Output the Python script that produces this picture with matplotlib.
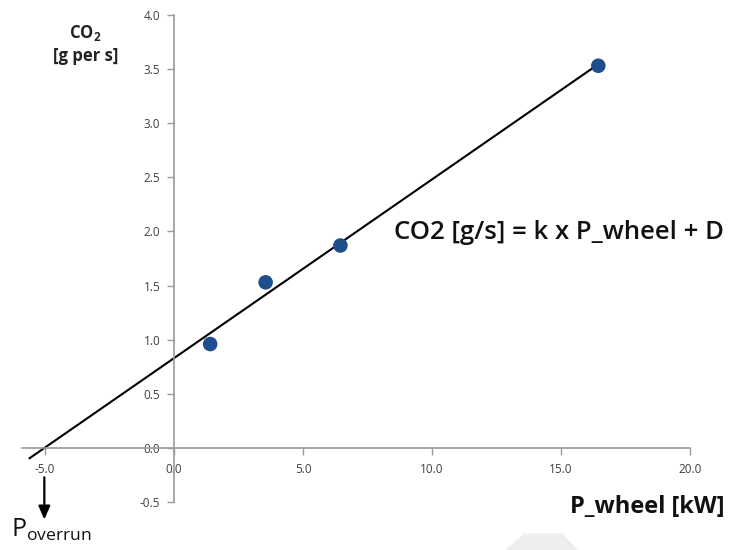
import numpy as np
import matplotlib
matplotlib.use('Agg')
import matplotlib.pyplot as plt
from matplotlib.patches import Polygon

# measured points: wheel power [kW] vs CO2 [g/s]
p_wheel = [1.4, 3.55, 6.45, 16.45]
co2 = [0.96, 1.53, 1.87, 3.53]

# linear trend CO2 = k * P_wheel + D
k = 0.165
D = 0.83
line_x = [-5.6, 16.5]

x_ticks = [-5.0, 0.0, 5.0, 10.0, 15.0, 20.0]
y_ticks = [-0.5, 0.0, 0.5, 1.0, 1.5, 2.0, 2.5, 3.0, 3.5, 4.0]

plt.rcParams['font.family'] = ['Open Sans', 'DejaVu Sans']

fig = plt.figure(figsize=(7.3, 5.5), dpi=100)
ax = fig.add_axes([0.030, 0.087, 0.915, 0.886])

lx = np.array(line_x)
ax.plot(lx, k * lx + D, color='black', lw=1.5, zorder=2)
ax.scatter(p_wheel, co2, s=110, color='#1f4e8c', zorder=3, edgecolors='none')

ax.set_xlim(-5.9, 20)
ax.set_ylim(-0.5, 4.0)

# axes cross at the origin
for side in ('top', 'right'):
    ax.spines[side].set_visible(False)
ax.spines['left'].set_position(('data', 0))
ax.spines['bottom'].set_position(('data', 0))
ax.spines['left'].set_bounds(-0.5, 4.0)
ax.spines['bottom'].set_bounds(-5.9, 20)
for side in ('left', 'bottom'):
    ax.spines[side].set_color('#9a9a9a')
    ax.spines[side].set_linewidth(1.2)

ax.set_xticks(x_ticks)
ax.set_yticks(y_ticks)
ax.set_xticklabels([f'{v:.1f}' for v in x_ticks])
ax.set_yticklabels([f'{v:.1f}' for v in y_ticks])
ax.tick_params(axis='both', direction='out', length=5, width=1.0,
               color='#9a9a9a', labelsize=8.5, labelcolor='#404040')
ax.tick_params(axis='x', pad=6)
ax.tick_params(axis='y', pad=5)

# y-axis title
fig.text(0.117, 0.920, 'CO$_\\mathregular{2}$\n[g per s]', ha='center', va='center',
         fontsize=12, fontweight='bold', color='#222222', linespacing=1.25)

# x-axis title
fig.text(0.993, 0.078, 'P_wheel [kW]', ha='right', va='center',
         fontsize=17, fontweight='bold', color='#111111')

# model equation
fig.text(0.540, 0.578, 'CO2 [g/s] = k x P_wheel + D', ha='left', va='center',
         fontsize=18.5, fontweight='semibold', color='#111111')

# overrun power: x-intercept of the trend line, arrow starts below the tick label
x0 = -D / k
ax.annotate('', xy=(x0, -0.66), xytext=(x0, -0.27),
            arrowprops=dict(arrowstyle='-|>,head_length=0.8,head_width=0.35',
                            color='black', lw=1.6, shrinkA=0, shrinkB=0),
            annotation_clip=False)
fig.text(0.015, 0.012, 'P$_\\mathregular{overrun}$', ha='left', va='bottom',
         fontsize=18, color='#111111')

# faint grey mark at the bottom edge
fig.patches.append(Polygon([(0.692, 0.0), (0.718, 0.030), (0.770, 0.030), (0.792, 0.0)],
                           closed=True, transform=fig.transFigure,
                           facecolor='#eeeeee', edgecolor='none', zorder=0))

fig.savefig('out.png', dpi=100)
